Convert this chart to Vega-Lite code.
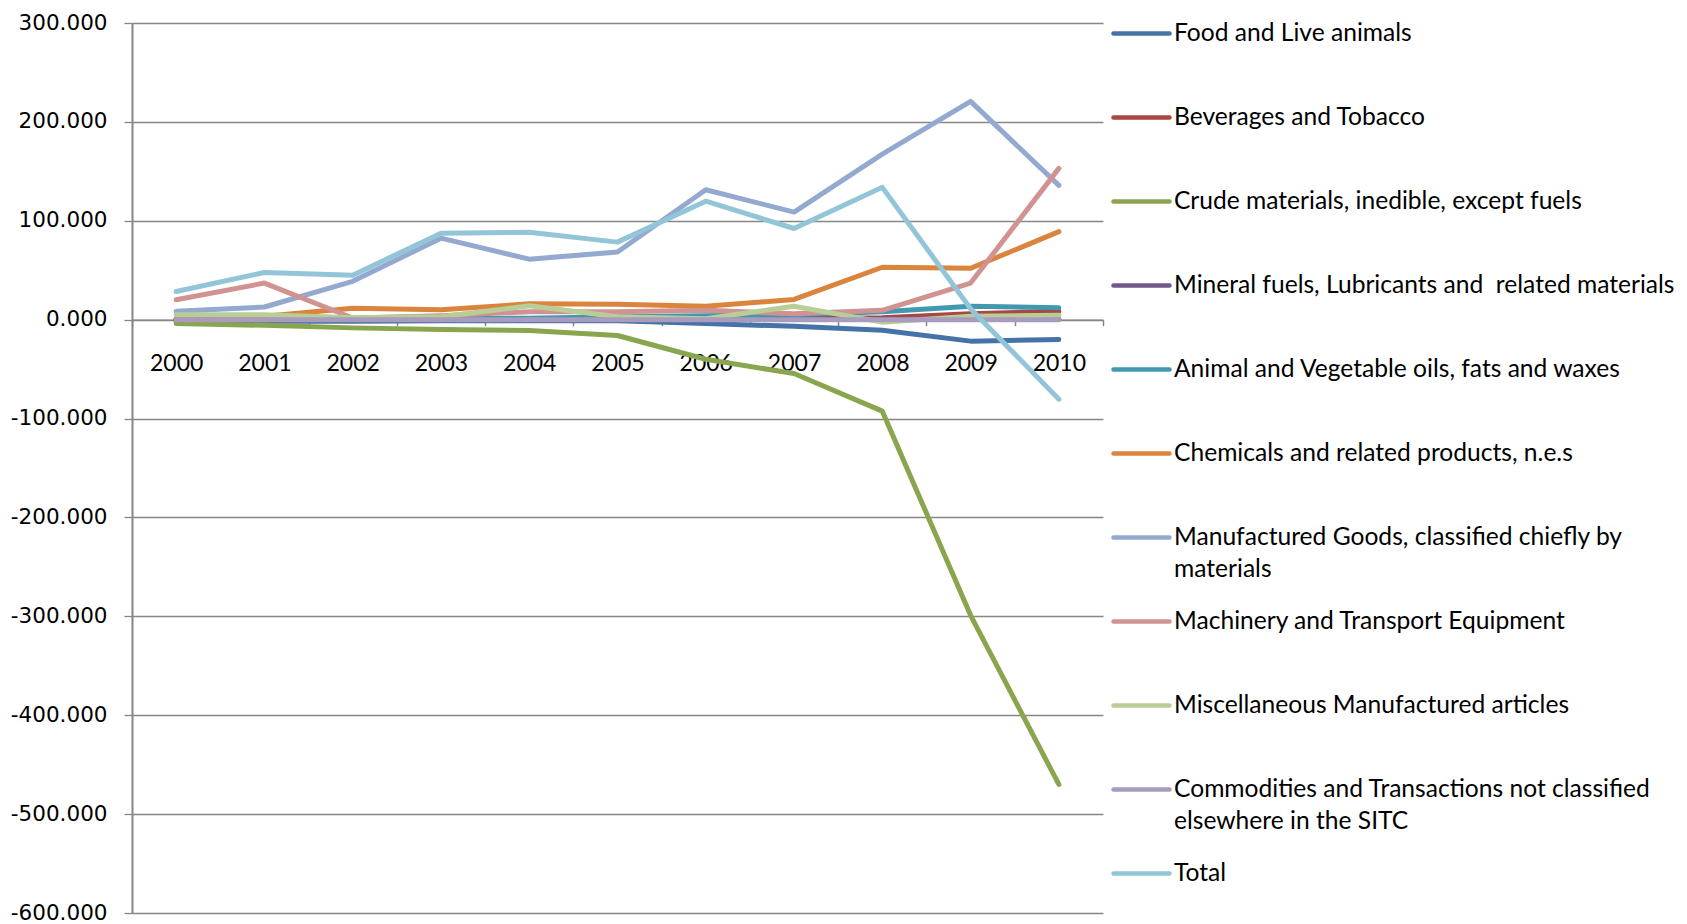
{
  "$schema": "https://vega.github.io/schema/vega-lite/v6.json",
  "width": 971,
  "height": 890,
  "autosize": {"type": "none"},
  "padding": {"left": 132, "top": 23, "right": 584, "bottom": 11},
  "background": "white",
  "config": {"view": {"stroke": null}, "font": "Lato"},
  "data": {"values": [
    {"year": "2000", "series": "Food and Live animals", "value": -1.5},
    {"year": "2001", "series": "Food and Live animals", "value": -1.5},
    {"year": "2002", "series": "Food and Live animals", "value": -1.5},
    {"year": "2003", "series": "Food and Live animals", "value": -1},
    {"year": "2004", "series": "Food and Live animals", "value": -1},
    {"year": "2005", "series": "Food and Live animals", "value": -1},
    {"year": "2006", "series": "Food and Live animals", "value": -4},
    {"year": "2007", "series": "Food and Live animals", "value": -6.7},
    {"year": "2008", "series": "Food and Live animals", "value": -10.8},
    {"year": "2009", "series": "Food and Live animals", "value": -21.7},
    {"year": "2010", "series": "Food and Live animals", "value": -20},
    {"year": "2000", "series": "Beverages and Tobacco", "value": 0.5},
    {"year": "2001", "series": "Beverages and Tobacco", "value": 0.5},
    {"year": "2002", "series": "Beverages and Tobacco", "value": 1},
    {"year": "2003", "series": "Beverages and Tobacco", "value": 1},
    {"year": "2004", "series": "Beverages and Tobacco", "value": 1},
    {"year": "2005", "series": "Beverages and Tobacco", "value": 1.5},
    {"year": "2006", "series": "Beverages and Tobacco", "value": 1.5},
    {"year": "2007", "series": "Beverages and Tobacco", "value": 1.5},
    {"year": "2008", "series": "Beverages and Tobacco", "value": 2},
    {"year": "2009", "series": "Beverages and Tobacco", "value": 6},
    {"year": "2010", "series": "Beverages and Tobacco", "value": 8.5},
    {"year": "2000", "series": "Crude materials, inedible, except fuels", "value": -4},
    {"year": "2001", "series": "Crude materials, inedible, except fuels", "value": -5.7},
    {"year": "2002", "series": "Crude materials, inedible, except fuels", "value": -8.3},
    {"year": "2003", "series": "Crude materials, inedible, except fuels", "value": -10},
    {"year": "2004", "series": "Crude materials, inedible, except fuels", "value": -11},
    {"year": "2005", "series": "Crude materials, inedible, except fuels", "value": -16},
    {"year": "2006", "series": "Crude materials, inedible, except fuels", "value": -40},
    {"year": "2007", "series": "Crude materials, inedible, except fuels", "value": -54.5},
    {"year": "2008", "series": "Crude materials, inedible, except fuels", "value": -92.5},
    {"year": "2009", "series": "Crude materials, inedible, except fuels", "value": -299},
    {"year": "2010", "series": "Crude materials, inedible, except fuels", "value": -470},
    {"year": "2000", "series": "Mineral fuels, Lubricants and  related materials", "value": 0.3},
    {"year": "2001", "series": "Mineral fuels, Lubricants and  related materials", "value": 0.3},
    {"year": "2002", "series": "Mineral fuels, Lubricants and  related materials", "value": 0.3},
    {"year": "2003", "series": "Mineral fuels, Lubricants and  related materials", "value": 0.3},
    {"year": "2004", "series": "Mineral fuels, Lubricants and  related materials", "value": 0.3},
    {"year": "2005", "series": "Mineral fuels, Lubricants and  related materials", "value": 0.3},
    {"year": "2006", "series": "Mineral fuels, Lubricants and  related materials", "value": 0.3},
    {"year": "2007", "series": "Mineral fuels, Lubricants and  related materials", "value": 0.3},
    {"year": "2008", "series": "Mineral fuels, Lubricants and  related materials", "value": 0.3},
    {"year": "2009", "series": "Mineral fuels, Lubricants and  related materials", "value": 0.3},
    {"year": "2010", "series": "Mineral fuels, Lubricants and  related materials", "value": 0.3},
    {"year": "2000", "series": "Animal and Vegetable oils, fats and waxes", "value": 0.5},
    {"year": "2001", "series": "Animal and Vegetable oils, fats and waxes", "value": 0.5},
    {"year": "2002", "series": "Animal and Vegetable oils, fats and waxes", "value": 0.5},
    {"year": "2003", "series": "Animal and Vegetable oils, fats and waxes", "value": 1},
    {"year": "2004", "series": "Animal and Vegetable oils, fats and waxes", "value": 1.5},
    {"year": "2005", "series": "Animal and Vegetable oils, fats and waxes", "value": 3},
    {"year": "2006", "series": "Animal and Vegetable oils, fats and waxes", "value": 4},
    {"year": "2007", "series": "Animal and Vegetable oils, fats and waxes", "value": 5},
    {"year": "2008", "series": "Animal and Vegetable oils, fats and waxes", "value": 8},
    {"year": "2009", "series": "Animal and Vegetable oils, fats and waxes", "value": 13.5},
    {"year": "2010", "series": "Animal and Vegetable oils, fats and waxes", "value": 12},
    {"year": "2000", "series": "Chemicals and related products, n.e.s", "value": 1},
    {"year": "2001", "series": "Chemicals and related products, n.e.s", "value": 3.5},
    {"year": "2002", "series": "Chemicals and related products, n.e.s", "value": 11.5},
    {"year": "2003", "series": "Chemicals and related products, n.e.s", "value": 10},
    {"year": "2004", "series": "Chemicals and related products, n.e.s", "value": 16},
    {"year": "2005", "series": "Chemicals and related products, n.e.s", "value": 15.5},
    {"year": "2006", "series": "Chemicals and related products, n.e.s", "value": 13.5},
    {"year": "2007", "series": "Chemicals and related products, n.e.s", "value": 20.5},
    {"year": "2008", "series": "Chemicals and related products, n.e.s", "value": 53},
    {"year": "2009", "series": "Chemicals and related products, n.e.s", "value": 52},
    {"year": "2010", "series": "Chemicals and related products, n.e.s", "value": 89},
    {"year": "2000", "series": "Manufactured Goods, classified chiefly by materials", "value": 8.4},
    {"year": "2001", "series": "Manufactured Goods, classified chiefly by materials", "value": 12.8},
    {"year": "2002", "series": "Manufactured Goods, classified chiefly by materials", "value": 38.8},
    {"year": "2003", "series": "Manufactured Goods, classified chiefly by materials", "value": 82.4},
    {"year": "2004", "series": "Manufactured Goods, classified chiefly by materials", "value": 61.2},
    {"year": "2005", "series": "Manufactured Goods, classified chiefly by materials", "value": 68.4},
    {"year": "2006", "series": "Manufactured Goods, classified chiefly by materials", "value": 131.4},
    {"year": "2007", "series": "Manufactured Goods, classified chiefly by materials", "value": 108.8},
    {"year": "2008", "series": "Manufactured Goods, classified chiefly by materials", "value": 167.4},
    {"year": "2009", "series": "Manufactured Goods, classified chiefly by materials", "value": 220.7},
    {"year": "2010", "series": "Manufactured Goods, classified chiefly by materials", "value": 135.8},
    {"year": "2000", "series": "Machinery and Transport Equipment", "value": 20.1},
    {"year": "2001", "series": "Machinery and Transport Equipment", "value": 37},
    {"year": "2002", "series": "Machinery and Transport Equipment", "value": 1.7},
    {"year": "2003", "series": "Machinery and Transport Equipment", "value": 4},
    {"year": "2004", "series": "Machinery and Transport Equipment", "value": 8},
    {"year": "2005", "series": "Machinery and Transport Equipment", "value": 8},
    {"year": "2006", "series": "Machinery and Transport Equipment", "value": 9.5},
    {"year": "2007", "series": "Machinery and Transport Equipment", "value": 6},
    {"year": "2008", "series": "Machinery and Transport Equipment", "value": 9.5},
    {"year": "2009", "series": "Machinery and Transport Equipment", "value": 37},
    {"year": "2010", "series": "Machinery and Transport Equipment", "value": 153},
    {"year": "2000", "series": "Miscellaneous Manufactured articles", "value": 5},
    {"year": "2001", "series": "Miscellaneous Manufactured articles", "value": 5},
    {"year": "2002", "series": "Miscellaneous Manufactured articles", "value": 2},
    {"year": "2003", "series": "Miscellaneous Manufactured articles", "value": 3},
    {"year": "2004", "series": "Miscellaneous Manufactured articles", "value": 14},
    {"year": "2005", "series": "Miscellaneous Manufactured articles", "value": 3},
    {"year": "2006", "series": "Miscellaneous Manufactured articles", "value": 1},
    {"year": "2007", "series": "Miscellaneous Manufactured articles", "value": 13.5},
    {"year": "2008", "series": "Miscellaneous Manufactured articles", "value": -2.5},
    {"year": "2009", "series": "Miscellaneous Manufactured articles", "value": 3.5},
    {"year": "2010", "series": "Miscellaneous Manufactured articles", "value": 4.5},
    {"year": "2000", "series": "Commodities and Transactions not classified elsewhere in the SITC", "value": 0},
    {"year": "2001", "series": "Commodities and Transactions not classified elsewhere in the SITC", "value": 0},
    {"year": "2002", "series": "Commodities and Transactions not classified elsewhere in the SITC", "value": 0},
    {"year": "2003", "series": "Commodities and Transactions not classified elsewhere in the SITC", "value": 0},
    {"year": "2004", "series": "Commodities and Transactions not classified elsewhere in the SITC", "value": 0},
    {"year": "2005", "series": "Commodities and Transactions not classified elsewhere in the SITC", "value": 0},
    {"year": "2006", "series": "Commodities and Transactions not classified elsewhere in the SITC", "value": 0},
    {"year": "2007", "series": "Commodities and Transactions not classified elsewhere in the SITC", "value": 0},
    {"year": "2008", "series": "Commodities and Transactions not classified elsewhere in the SITC", "value": 0},
    {"year": "2009", "series": "Commodities and Transactions not classified elsewhere in the SITC", "value": 0},
    {"year": "2010", "series": "Commodities and Transactions not classified elsewhere in the SITC", "value": 0},
    {"year": "2000", "series": "Total", "value": 28.5},
    {"year": "2001", "series": "Total", "value": 47.7},
    {"year": "2002", "series": "Total", "value": 45},
    {"year": "2003", "series": "Total", "value": 87.3},
    {"year": "2004", "series": "Total", "value": 88.3},
    {"year": "2005", "series": "Total", "value": 78.4},
    {"year": "2006", "series": "Total", "value": 119.8},
    {"year": "2007", "series": "Total", "value": 92.2},
    {"year": "2008", "series": "Total", "value": 133.8},
    {"year": "2009", "series": "Total", "value": 11},
    {"year": "2010", "series": "Total", "value": -80.4}
  ]},
  "mark": {"type": "line", "strokeWidth": 5, "strokeCap": "round", "strokeJoin": "round"},
  "encoding": {
    "x": {
      "field": "year", "type": "ordinal", "bandPosition": 0.5,
      "scale": {"type": "band", "paddingInner": 0, "paddingOuter": 0},
      "axis": {
        "title": null, "orient": "bottom", "offset": -593.3, "grid": false,
        "domainColor": "#868686", "domainWidth": 1.5,
        "tickColor": "#868686", "tickWidth": 1.5, "tickSize": 6, "tickBand": "extent",
        "labelFont": "Lato", "labelFontSize": 23, "labelColor": "#000000",
        "labelAngle": 0, "labelBaseline": "middle", "labelPadding": 37.5
      }
    },
    "y": {
      "field": "value", "type": "quantitative",
      "scale": {"domain": [-600, 300], "nice": false, "zero": false},
      "axis": {
        "title": null, "values": [-600, -500, -400, -300, -200, -100, 0, 100, 200, 300],
        "labelExpr": "(datum.value < 0 ? '-' : '') + format(abs(datum.value), '.3f')",
        "domainColor": "#868686", "domainWidth": 2,
        "tickColor": "#868686", "tickWidth": 1.3, "tickSize": 8,
        "grid": true, "gridColor": "#868686", "gridWidth": 1.3,
        "labelFont": "DejaVu Sans", "labelFontSize": 21.5, "labelColor": "#000000", "labelPadding": 17
      }
    },
    "color": {
      "field": "series", "type": "nominal",
      "scale": {
        "domain": [
          "Food and Live animals",
          "Beverages and Tobacco",
          "Crude materials, inedible, except fuels",
          "Mineral fuels, Lubricants and  related materials",
          "Animal and Vegetable oils, fats and waxes",
          "Chemicals and related products, n.e.s",
          "Manufactured Goods, classified chiefly by materials",
          "Machinery and Transport Equipment",
          "Miscellaneous Manufactured articles",
          "Commodities and Transactions not classified elsewhere in the SITC",
          "Total"
        ],
        "range": ["#4572A7", "#AA4643", "#89A54E", "#71588F", "#4198AF", "#DB843D", "#93A9CF", "#D19392", "#B9CD96", "#A99BBD", "#92C5D7"]
      },
      "legend": {
        "orient": "none", "legendX": 979, "legendY": -19.9, "direction": "vertical", "columns": 1,
        "title": null, "padding": 0,
        "symbolType": "stroke", "symbolSize": 3136, "symbolStrokeWidth": 4.5,
        "labelFont": "Lato", "labelFontSize": 24.6, "labelColor": "#000000", "labelOffset": 2, "labelLimit": 700,
        "gridAlign": "all", "rowPadding": 9,
        "labelExpr": "datum.label == 'Manufactured Goods, classified chiefly by materials' ? ['Manufactured Goods, classified chiefly by', 'materials'] : datum.label == 'Commodities and Transactions not classified elsewhere in the SITC' ? ['Commodities and Transactions not classified', 'elsewhere in the SITC'] : replace(datum.label, '  ', ' \u00a0')",
        "encode": {
          "labels": {"update": {"lineHeight": {"value": 32}}},
          "symbols": {"update": {"strokeCap": {"value": "round"}}}
        }
      }
    }
  }
}
